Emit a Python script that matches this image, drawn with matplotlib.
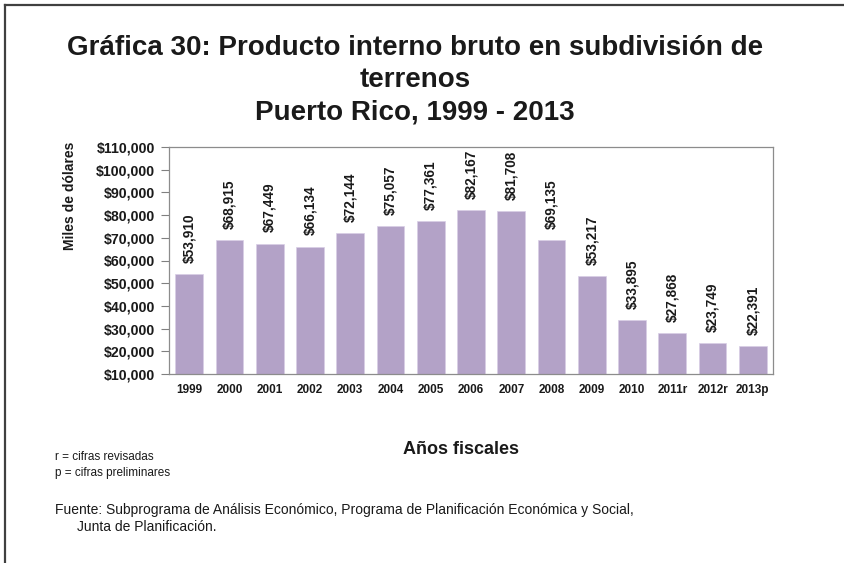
import matplotlib.pyplot as plt
from matplotlib.lines import Line2D
from matplotlib.ticker import FuncFormatter

# data
years = ['1999', '2000', '2001', '2002', '2003', '2004', '2005', '2006',
         '2007', '2008', '2009', '2010', '2011r', '2012r', '2013p']
pib = [53910, 68915, 67449, 66134, 72144, 75057, 77361, 82167,
       81708, 69135, 53217, 33895, 27868, 23749, 22391]
y_ticks = list(range(10000, 110001, 10000))

W, H = 844, 563


def main():
    plt.rcParams['font.family'] = ['Liberation Sans', 'DejaVu Sans']
    fig = plt.figure(figsize=(W / 100, H / 100), dpi=100)

    # axes box in pixel coords: left 169, right 773, top 147, bottom 374
    ax = fig.add_axes([169 / W, 1 - 374 / H, (773 - 169) / W, (374 - 147) / H])
    x = range(len(years))
    ax.bar(x, pib, width=0.69, color='#B3A2C7', edgecolor='#D8CEE6', linewidth=0.5)
    for i, v in enumerate(pib):
        ax.annotate('${:,}'.format(v), (i, v), xytext=(0, 8), textcoords='offset points',
                    rotation=90, ha='center', va='bottom', fontsize=9.8,
                    fontweight='bold', color='#1a1a1a')

    ax.set_xlim(-0.5, len(years) - 0.5)
    ax.set_ylim(10000, 110000)
    ax.set_yticks(y_ticks)
    ax.yaxis.set_major_formatter(FuncFormatter(lambda v, p: '${:,.0f}'.format(v)))
    ax.set_xticks(list(x))
    ax.set_xticklabels(years)
    for lbl in ax.get_yticklabels():
        lbl.set_fontweight('bold')
        lbl.set_fontsize(10.2)
    for lbl in ax.get_xticklabels():
        lbl.set_fontweight('bold')
        lbl.set_fontsize(8.5)
    ax.tick_params(axis='y', length=6, color='#808080', pad=4, labelcolor='#1a1a1a')
    ax.tick_params(axis='x', length=0, pad=7, labelcolor='#1a1a1a')
    for s in ax.spines.values():
        s.set_color('#8c8c8c')
        s.set_linewidth(0.9)

    # titles
    fig.text(415 / W, 1 - 48 / H, 'Gráfica 30: Producto interno bruto en subdivisión de',
             ha='center', va='center', fontsize=20, fontweight='bold', color='#1a1a1a')
    fig.text(415 / W, 1 - 80 / H, 'terrenos', ha='center', va='center',
             fontsize=20, fontweight='bold', color='#1a1a1a')
    fig.text(415 / W, 1 - 112 / H, 'Puerto Rico, 1999 - 2013', ha='center', va='center',
             fontsize=20, fontweight='bold', color='#1a1a1a')

    fig.text(70 / W, 1 - 196 / H, 'Miles de dólares', rotation=90, ha='center', va='center',
             fontsize=10, fontweight='bold', color='#1a1a1a')
    fig.text(461 / W, 1 - 449 / H, 'Años fiscales', ha='center', va='center',
             fontsize=13, fontweight='bold', color='#1a1a1a')

    # notes
    fig.text(55 / W, 1 - 457 / H, 'r = cifras revisadas', ha='left', va='center',
             fontsize=8.5, color='#1a1a1a')
    fig.text(55 / W, 1 - 473 / H, 'p = cifras preliminares', ha='left', va='center',
             fontsize=8.5, color='#1a1a1a')
    fig.text(55 / W, 1 - 510 / H,
             'Fuente: Subprograma de Análisis Económico, Programa de Planificación Económica y Social,',
             ha='left', va='center', fontsize=10, color='#1a1a1a')
    fig.text(77 / W, 1 - 527 / H, 'Junta de Planificación.', ha='left', va='center',
             fontsize=10, color='#1a1a1a')

    # outer frame (top and left edges)
    fig.add_artist(Line2D([5 / W, 1], [1 - 5 / H, 1 - 5 / H], color='#404040', lw=1.6))
    fig.add_artist(Line2D([5 / W, 5 / W], [0, 1 - 5 / H], color='#404040', lw=1.6))

    fig.savefig('out.png', dpi=100)


if __name__ == '__main__':
    main()
